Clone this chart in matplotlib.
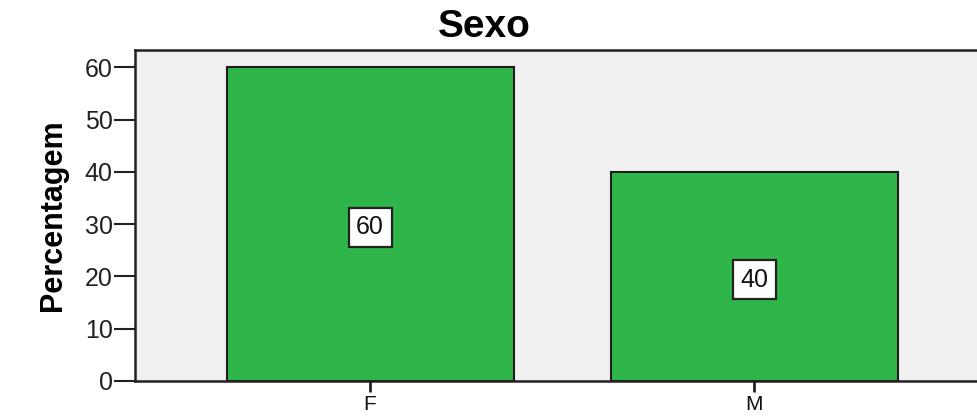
import matplotlib.pyplot as plt

# ---------- Data ----------
categories = ["F", "M"]
percent = [60, 40]
yticks = [0, 10, 20, 30, 40, 50, 60]

W, H = 978, 418
fig = plt.figure(figsize=(W / 100, H / 100), dpi=100)

# axes run off the right edge of the picture (cropped SPSS chart)
ax_l, ax_r, ax_t, ax_b = 135, 990, 50, 381
ax = fig.add_axes([ax_l / W, 1 - ax_b / H, (ax_r - ax_l) / W, (ax_b - ax_t) / H])
ax.set_facecolor("#f0f0f0")

x = range(len(categories))
ax.bar(x, percent, width=0.747, color="#2fb64a", edgecolor="#1e1e1e", linewidth=1.5, zorder=2)

for xi, v in zip(x, percent):
    ax.text(xi, v / 2 - 0.6, f"{v}", ha="center", va="center", fontsize=18, color="#111111",
            family="Liberation Sans", zorder=3,
            bbox=dict(boxstyle="square,pad=0.3", facecolor="white", edgecolor="#222222", linewidth=1.6))

ax.set_xlim(-0.612, 1.614)
ax.set_ylim(0, 63.3)
ax.set_xticks(list(x))
ax.set_xticklabels(categories, family="Liberation Sans", fontsize=15, color="#111111")
ax.set_yticks(yticks)
ax.set_yticklabels([str(t) for t in yticks], family="Liberation Sans", fontsize=18, color="#222222")
ax.tick_params(axis="y", length=15, width=1.5, pad=1, color="#222222")
ax.tick_params(axis="x", length=8, width=2, pad=2, color="#222222")

for side in ["left", "top", "bottom"]:
    ax.spines[side].set_linewidth(1.8)
    ax.spines[side].set_color("#222222")
ax.spines["right"].set_visible(False)

ax.set_ylabel("Percentagem", family="Liberation Sans", fontweight="bold", fontsize=22, labelpad=12)

fig.text(484 / W, 1 - 27 / H, "Sexo", ha="center", va="center", family="Liberation Sans",
         fontweight="bold", fontsize=28)

fig.savefig("out.png", dpi=100)
